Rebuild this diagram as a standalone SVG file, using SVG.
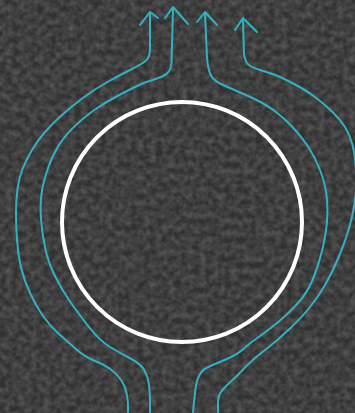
<svg xmlns="http://www.w3.org/2000/svg" width="355" height="413" viewBox="0 0 355 413">
<defs>
<filter id="grain" x="0" y="0" width="355" height="413" filterUnits="userSpaceOnUse">
<feTurbulence type="fractalNoise" baseFrequency="0.16" numOctaves="2" seed="11"/>
<feColorMatrix type="matrix" values="0 0 0 0 1  0 0 0 0 1  0 0 0 0 1  0.3 0 0 0 -0.08"/>
</filter>
<style>
.flow{fill:none;stroke:#36b0c1;stroke-width:2;stroke-linecap:round;stroke-linejoin:round}
</style>
</defs>
<rect width="355" height="413" fill="#313131"/>
<rect width="355" height="413" filter="url(#grain)"/>
<g id="circle">
<circle cx="182" cy="222" r="120" fill="none" stroke="#ffffff" stroke-width="4"/>
</g>
<g id="flows">
<path class="flow" d="M128,412 L128,406 Q128,400 126.5,393 Q125,386 121.5,380.5 Q118,375 111.5,370 Q105,365 95,361 Q85,357 76.5,349.5 Q68,342 59,334 Q50,326 43,316 Q36,306 30,293 Q24,280 21,267.5 Q18,255 17,240 Q16,225 16,212.5 Q16,200 17.5,189 Q19,178 22.5,169 Q26,160 32,150 Q38,140 45,132 Q52,124 62,115 Q72,106 83.5,97.5 Q95,89 107.5,82 Q120,75 130,70 Q140,65 145,61.5 Q150,58 150,49 L150,13"/>
<polyline class="flow" points="140,25 150,12 158,18"/>
<path class="flow" d="M150,412 L150,402 Q150,392 149,384.5 Q148,377 144.5,370.5 Q141,364 130.5,358.5 Q120,353 110,347 Q100,341 89,327 Q78,313 70,301.5 Q62,290 55,276 Q48,262 45,247.5 Q42,233 41,219 Q40,205 41.5,194 Q43,183 47.5,169.5 Q52,156 59,145 Q66,134 77,124 Q88,114 98,107.5 Q108,101 116.5,96.5 Q125,92 135,87 Q145,82 154,79.5 Q163,77 167,73.5 Q171,70 171.5,62.5 L173,9"/>
<polyline class="flow" points="165,18 173,7 188,24"/>
<path class="flow" d="M193,412 L194,402 Q195,392 196,385.5 Q197,379 200,374 Q203,369 211.5,365.5 Q220,362 229,358 Q238,354 244,348.5 Q250,343 260,336 Q270,329 280,320.5 Q290,312 298.5,302.5 Q307,293 312.5,280 Q318,267 322,251 Q326,235 327,221 Q328,207 326.5,195 Q325,183 320,170 Q315,157 308,146.5 Q301,136 292.5,127 Q284,118 276,112 Q268,106 260.5,102 Q253,98 242.5,93.5 Q232,89 223,85 Q214,81 211,75.5 Q208,70 207,57.5 L205,13"/>
<polyline class="flow" points="197,22 205,12 217,25"/>
<path class="flow" d="M218,412 L218,403.5 Q218,395 222,390.5 Q226,386 232,380.5 Q238,375 245,367.5 Q252,360 265,350 Q278,340 290,328.5 Q302,317 310,307 Q318,297 325,285 Q332,273 338.5,257.5 Q345,242 349,228.5 Q353,215 355,200 Q357,185 356,170 Q355,155 352.5,145 Q350,135 345,127 Q340,119 331.5,111 Q323,103 315,97 Q307,91 295,84.5 Q283,78 276.5,75.5 Q270,73 261.5,70.5 Q253,68 249,65 Q245,62 244,53.5 L243,20"/>
<polyline class="flow" points="235,30 243,18 257,32"/>
</g>
</svg>
